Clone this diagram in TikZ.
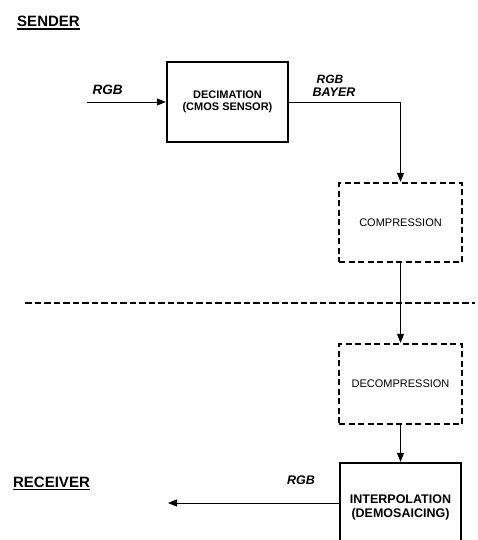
\documentclass[tikz,border=0pt]{standalone}
\usepackage{fontspec}
\setmainfont{Liberation Sans}
\usetikzlibrary{arrows.meta}
\begin{document}
\begin{tikzpicture}[x=1pt,y=-1pt,
  solidbox/.style={draw, line width=2.3pt, minimum width=121pt, minimum height=80pt,
    inner sep=0pt, align=center, font=\bfseries\fontsize{11}{12}\selectfont},
  dashbox/.style={draw, line width=2.3pt, dash pattern=on 6pt off 3.5pt,
    minimum width=123pt, minimum height=80pt, inner sep=0pt, align=center,
    font=\fontsize{11}{13}\selectfont},
  flow/.style={line width=0.9pt, -{Triangle[length=9pt,width=7pt]}},
  sig/.style={anchor=base, inner sep=0pt, font=\bfseries\itshape\fontsize{12.5}{14}\selectfont},
  title/.style={anchor=base, inner sep=0pt, font=\bfseries\fontsize{15}{18}\selectfont},
  rule/.style={line width=1.4pt}]
\useasboundingbox (0,0) rectangle (477,540);
\clip (0,0) rectangle (477,540);

% section titles, underlined
\node[title] (sender) at (48.5,27) {SENDER};
\node[title] (receiver) at (51.5,487) {RECEIVER};
\draw[rule] ([yshift=-2.2pt]sender.base west) -- ([yshift=-2.2pt]sender.base east);
\draw[rule] ([yshift=-2.2pt]receiver.base west) -- ([yshift=-2.2pt]receiver.base east);

% processing blocks
\node[solidbox] (dec) at (227.5,102) {DECIMATION\\(CMOS SENSOR)};
\node[dashbox, minimum height=79pt] (comp) at (400.5,222.5) {COMPRESSION};
\node[dashbox] (decomp) at (400.5,384) {DECOMPRESSION};
\node[solidbox, minimum height=88pt, font=\bfseries\fontsize{12.5}{14}\selectfont]
  (interp) at (400.5,507) {INTERPOLATION\\(DEMOSAICING)};

% channel divider
\coordinate (divL) at (25,303);
\coordinate (divR) at (475,303);
\draw[line width=2.5pt, dash pattern=on 6.5pt off 3pt] (divL) -- (divR);

% signal flow
\coordinate (src) at (87,102);
\coordinate (sink) at (168,503);
\draw[flow] (src) -- (dec.west);
\draw[flow] (dec.east) -| (comp.north);
\draw[flow] (comp.south) -- (decomp.north);
\draw[flow] (decomp.south) -- (interp.north);
\draw[flow] (interp.west |- sink) -- (sink);

% signal labels
\node[sig, font=\bfseries\itshape\fontsize{13.5}{15}\selectfont] (rgbin) at (107.7,95) {RGB};
\node[sig, font=\bfseries\itshape\fontsize{12}{14}\selectfont] (rgbbay) at (330,83.5) {RGB};
\node[sig, font=\bfseries\itshape\fontsize{12.5}{14}\selectfont] (bayer) at (334,97) {BAYER};
\node[sig] (rgbout) at (301,484) {RGB};
\end{tikzpicture}
\end{document}
